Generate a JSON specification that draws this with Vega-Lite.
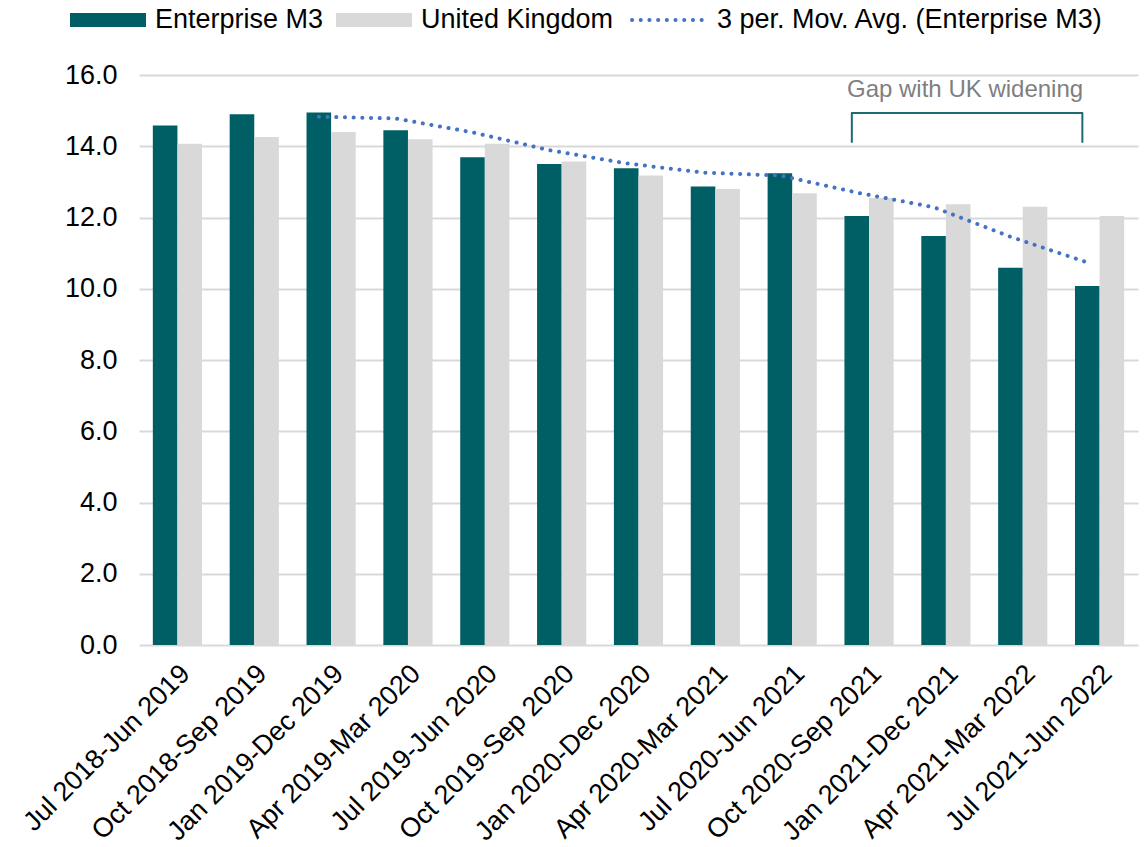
{
  "$schema": "https://vega.github.io/schema/vega-lite/v6.json",
  "width": 999,
  "height": 570,
  "autosize": {"type": "none"},
  "padding": {"left": 139, "top": 75, "right": 10, "bottom": 202},
  "config": {
    "font": "Liberation Sans",
    "view": {"stroke": null},
    "axis": {"labelFont": "Liberation Sans", "labelColor": "#000000"}
  },
  "datasets": {
    "bars": [
      {"period": "Jul 2018-Jun 2019", "series": "Enterprise M3", "value": 14.58},
      {"period": "Oct 2018-Sep 2019", "series": "Enterprise M3", "value": 14.9},
      {"period": "Jan 2019-Dec 2019", "series": "Enterprise M3", "value": 14.95},
      {"period": "Apr 2019-Mar 2020", "series": "Enterprise M3", "value": 14.45},
      {"period": "Jul 2019-Jun 2020", "series": "Enterprise M3", "value": 13.69},
      {"period": "Oct 2019-Sep 2020", "series": "Enterprise M3", "value": 13.5},
      {"period": "Jan 2020-Dec 2020", "series": "Enterprise M3", "value": 13.38},
      {"period": "Apr 2020-Mar 2021", "series": "Enterprise M3", "value": 12.87},
      {"period": "Jul 2020-Jun 2021", "series": "Enterprise M3", "value": 13.24},
      {"period": "Oct 2020-Sep 2021", "series": "Enterprise M3", "value": 12.04},
      {"period": "Jan 2021-Dec 2021", "series": "Enterprise M3", "value": 11.48},
      {"period": "Apr 2021-Mar 2022", "series": "Enterprise M3", "value": 10.59},
      {"period": "Jul 2021-Jun 2022", "series": "Enterprise M3", "value": 10.08},
      {"period": "Jul 2018-Jun 2019", "series": "United Kingdom", "value": 14.07},
      {"period": "Oct 2018-Sep 2019", "series": "United Kingdom", "value": 14.26},
      {"period": "Jan 2019-Dec 2019", "series": "United Kingdom", "value": 14.4},
      {"period": "Apr 2019-Mar 2020", "series": "United Kingdom", "value": 14.2},
      {"period": "Jul 2019-Jun 2020", "series": "United Kingdom", "value": 14.07},
      {"period": "Oct 2019-Sep 2020", "series": "United Kingdom", "value": 13.57},
      {"period": "Jan 2020-Dec 2020", "series": "United Kingdom", "value": 13.18},
      {"period": "Apr 2020-Mar 2021", "series": "United Kingdom", "value": 12.8},
      {"period": "Jul 2020-Jun 2021", "series": "United Kingdom", "value": 12.68},
      {"period": "Oct 2020-Sep 2021", "series": "United Kingdom", "value": 12.55},
      {"period": "Jan 2021-Dec 2021", "series": "United Kingdom", "value": 12.37},
      {"period": "Apr 2021-Mar 2022", "series": "United Kingdom", "value": 12.3},
      {"period": "Jul 2021-Jun 2022", "series": "United Kingdom", "value": 12.04}
    ],
    "ma": [
      {"period": "Jan 2019-Dec 2019", "ma": 14.83},
      {"period": "Apr 2019-Mar 2020", "ma": 14.78},
      {"period": "Jul 2019-Jun 2020", "ma": 14.39},
      {"period": "Oct 2019-Sep 2020", "ma": 13.89},
      {"period": "Jan 2020-Dec 2020", "ma": 13.52},
      {"period": "Apr 2020-Mar 2021", "ma": 13.26},
      {"period": "Jul 2020-Jun 2021", "ma": 13.18},
      {"period": "Oct 2020-Sep 2021", "ma": 12.7},
      {"period": "Jan 2021-Dec 2021", "ma": 12.29},
      {"period": "Apr 2021-Mar 2022", "ma": 11.46},
      {"period": "Jul 2021-Jun 2022", "ma": 10.74}
    ],
    "bracket": [
      {"period": "Oct 2020-Sep 2021", "y": 14.1, "k": 1},
      {"period": "Oct 2020-Sep 2021", "y": 14.93, "k": 2},
      {"period": "Jul 2021-Jun 2022", "y": 14.93, "k": 3},
      {"period": "Jul 2021-Jun 2022", "y": 14.1, "k": 4}
    ],
    "note": [
      {"period": "Jan 2021-Dec 2021", "y": 15.58, "label": "Gap with UK widening"}
    ]
  },
  "layer": [
    {
      "data": {"name": "bars"},
      "mark": {"type": "bar"},
      "encoding": {
        "x": {
          "field": "period", "type": "nominal",
          "scale": {
            "domain": ["Jul 2018-Jun 2019","Oct 2018-Sep 2019","Jan 2019-Dec 2019","Apr 2019-Mar 2020","Jul 2019-Jun 2020","Oct 2019-Sep 2020","Jan 2020-Dec 2020","Apr 2020-Mar 2021","Jul 2020-Jun 2021","Oct 2020-Sep 2021","Jan 2021-Dec 2021","Apr 2021-Mar 2022","Jul 2021-Jun 2022"],
            "paddingInner": 0.36, "paddingOuter": 0.18
          },
          "axis": {
            "title": null, "labelAngle": -45, "labelFontSize": 27, "domain": false,
            "ticks": false, "labelPadding": 15, "labelOffset": -1, "labelLimit": 400
          }
        },
        "xOffset": {
          "field": "series", "type": "nominal",
          "scale": {"domain": ["Enterprise M3", "United Kingdom"], "paddingInner": 0, "paddingOuter": 0}
        },
        "y": {
          "field": "value", "type": "quantitative",
          "scale": {"domain": [0, 16], "nice": false},
          "axis": {
            "title": null, "values": [0, 2, 4, 6, 8, 10, 12, 14, 16], "format": ".1f",
            "labelFontSize": 27, "domain": false, "ticks": false, "labelPadding": 22,
            "gridColor": "#D9D9D9", "gridWidth": 2
          }
        },
        "color": {
          "field": "series", "type": "nominal",
          "scale": {
            "domain": ["Enterprise M3", "United Kingdom", "3 per. Mov. Avg. (Enterprise M3)"],
            "range": ["#005F64", "#D9D9D9", "#4472C4"]
          },
          "legend": {
            "title": null, "orient": "none", "direction": "horizontal",
            "legendX": -71, "legendY": -95, "padding": 0,
            "labelFontSize": 27, "labelFont": "Liberation Sans", "labelColor": "#000000",
            "labelLimit": 600, "labelOffset": 7, "columnPadding": 10,
            "symbolSize": 5776, "symbolType": "M-1,-0.184L1,-0.184L1,0.184L-1,0.184Z",
            "encode": {
              "symbols": {
                "update": {
                  "size": {"value": 5776},
                  "strokeWidth": {"value": 4},
                  "shape": {"signal": "datum.value === '3 per. Mov. Avg. (Enterprise M3)' ? 'M-1,0L1,0' : 'M-1,-0.184L1,-0.184L1,0.184L-1,0.184Z'"},
                  "fill": {"signal": "datum.value === '3 per. Mov. Avg. (Enterprise M3)' ? 'transparent' : (datum.value === 'Enterprise M3' ? '#005F64' : '#D9D9D9')"},
                  "stroke": {"signal": "datum.value === '3 per. Mov. Avg. (Enterprise M3)' ? '#4472C4' : 'transparent'"},
                  "strokeOpacity": {"signal": "datum.value === '3 per. Mov. Avg. (Enterprise M3)' ? 1 : 0"},
                  "strokeDash": {"value": [0.1, 8.6]},
                  "strokeCap": {"value": "round"}
                }
              }
            }
          }
        }
      }
    },
    {
      "data": {"name": "ma"},
      "mark": {"type": "line", "strokeWidth": 4, "strokeDash": [0.1, 8.6], "strokeCap": "round"},
      "encoding": {
        "x": {"field": "period", "type": "nominal", "bandPosition": 0.25},
        "y": {"field": "ma", "type": "quantitative"},
        "color": {"datum": "3 per. Mov. Avg. (Enterprise M3)", "type": "nominal"}
      }
    },
    {
      "data": {"name": "bracket"},
      "mark": {"type": "line", "stroke": "#1B6B70", "strokeWidth": 2, "strokeJoin": "round"},
      "encoding": {
        "x": {"field": "period", "type": "nominal", "bandPosition": 0.15},
        "y": {"field": "y", "type": "quantitative"},
        "order": {"field": "k", "type": "quantitative"}
      }
    },
    {
      "data": {"name": "note"},
      "mark": {"type": "text", "fontSize": 24, "color": "#7F7F7F", "align": "center", "baseline": "middle", "font": "Liberation Sans"},
      "encoding": {
        "x": {"field": "period", "type": "nominal", "bandPosition": 0.89},
        "y": {"field": "y", "type": "quantitative"},
        "text": {"field": "label"}
      }
    }
  ]
}
